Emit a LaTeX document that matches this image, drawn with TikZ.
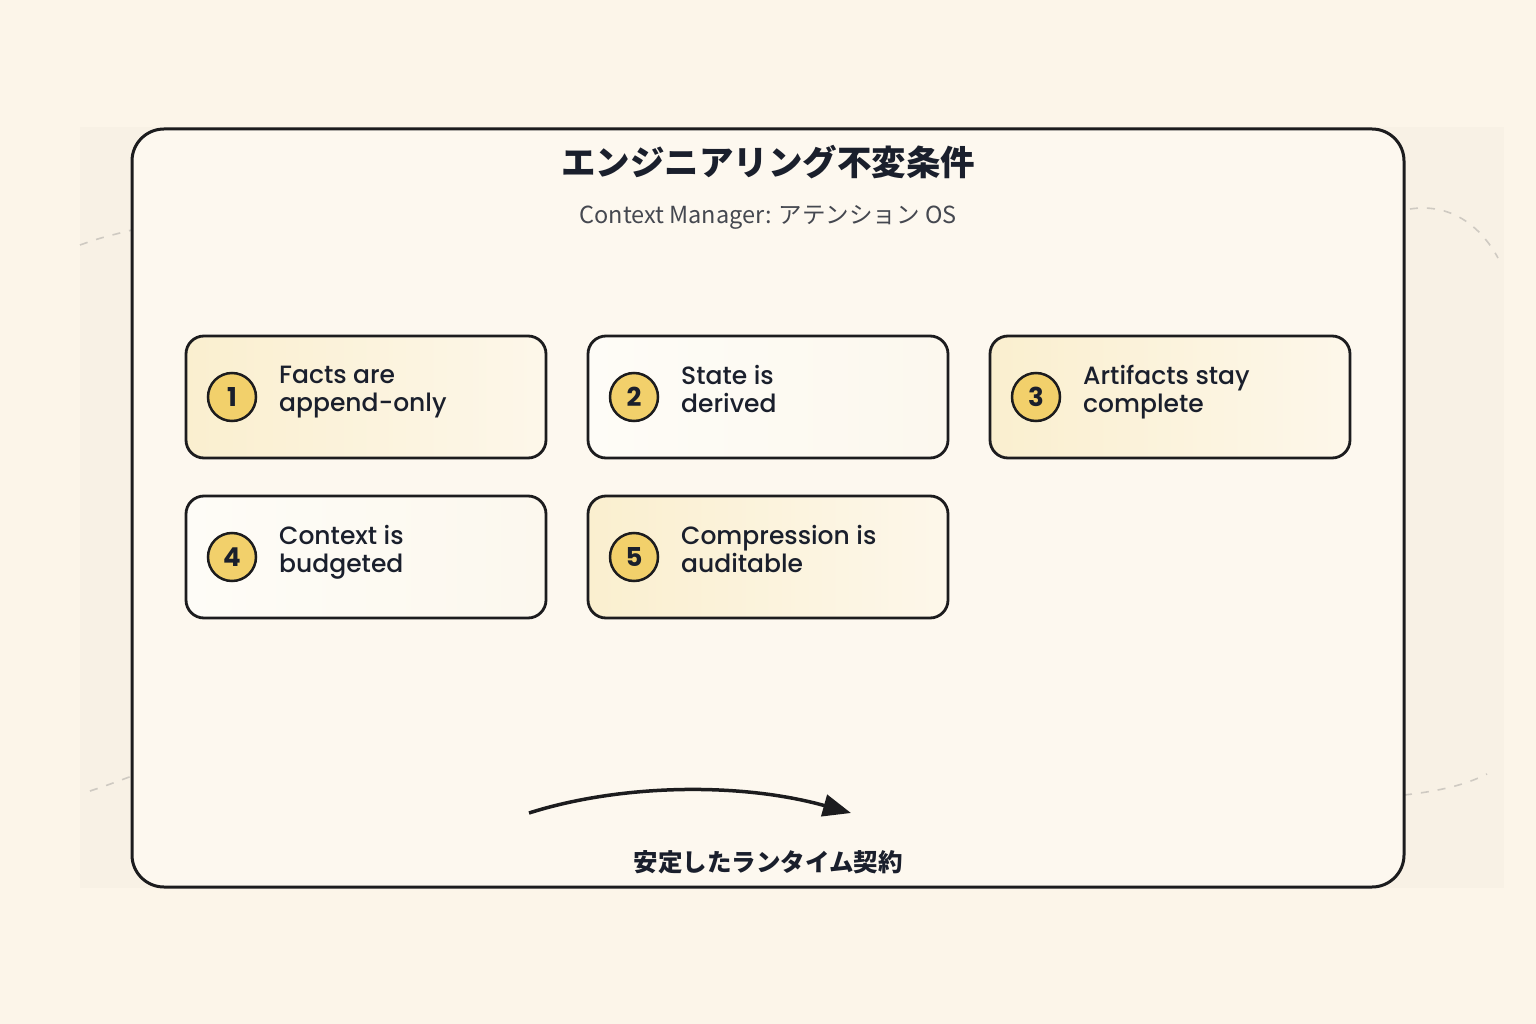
\documentclass[tikz,border=0pt]{standalone}
\usepackage{fontspec}
\setmainfont{Lato}
\newfontfamily\cjk{Noto Sans CJK JP}
\newfontfamily\cardfont{Poppins Medium}
\newfontfamily\badgefont{Poppins Bold}
\usetikzlibrary{arrows.meta}
\definecolor{bgc}{HTML}{FCF5E9}
\definecolor{bandc}{HTML}{F8F1E5}
\definecolor{panelc}{HTML}{FDF8EF}
\definecolor{inkc}{HTML}{1C1C1E}
\definecolor{txtc}{HTML}{1A1F2C}
\definecolor{subc}{HTML}{454850}
\definecolor{yelL}{HTML}{FAEFCF}
\definecolor{yelR}{HTML}{FDF7EA}
\definecolor{whtL}{HTML}{FEFCF7}
\definecolor{whtR}{HTML}{FCF8EE}
\definecolor{badgec}{HTML}{F2D06B}
\definecolor{dashc}{HTML}{CFCAC2}
\tikzset{
  card/.style={draw=inkc, line width=2.8pt, rounded corners=18pt, minimum width=360pt, minimum height=122pt, inner sep=0pt},
  ycard/.style={card, left color=yelL, right color=yelR},
  wcard/.style={card, left color=whtL, right color=whtR},
  badge/.style={circle, draw=inkc, line width=2.5pt, fill=badgec, minimum size=48pt, inner sep=0pt, font=\badgefont\fontsize{26}{26}\selectfont, text=txtc},
  label/.style={anchor=west, align=left, inner sep=0pt, text=txtc, font=\cardfont\fontsize{25}{28}\selectfont},
  deco/.style={draw=dashc, line width=1.6pt, dash pattern=on 8pt off 9pt}
}
\begin{document}
\begin{tikzpicture}[x=1pt,y=-1pt]
\fill[bgc] (0,0) rectangle (1536,1024);
\useasboundingbox (0,0) rectangle (1536,1024);
\fill[bandc] (80,127) rectangle (1504,888);
% decorative dashed curves
\draw[deco] (80,245) .. controls (100,238) .. (132,230);
\draw[deco] (1410,209) .. controls (1450,203) and (1480,225) .. (1498,258);
\draw[deco] (90,791) .. controls (105,786) .. (132,776);
\draw[deco] (1404,795) .. controls (1440,791) and (1465,785) .. (1487,774);
% main panel
\node[draw=inkc, fill=panelc, line width=3pt, rounded corners=32pt, minimum width=1272pt, minimum height=758pt, inner sep=0pt] (panel) at (768,508) {};
\node[font=\cjk\fontsize{34.5}{34.5}\selectfont\bfseries, text=txtc] (title) at (768,162) {エンジニアリング不変条件};
\node[font=\cjk\fontsize{23.5}{23.5}\selectfont, text=subc] (sub) at (768,217) {Context Manager: アテンション OS};
% cards
\node[ycard] (c1) at (366,397) {};
\node[wcard] (c2) at (768,397) {};
\node[ycard] (c3) at (1170,397) {};
\node[wcard] (c4) at (366,557) {};
\node[ycard] (c5) at (768,557) {};
\node[badge] (b1) at (232,397) {1};
\node[badge] (b2) at (634,397) {2};
\node[badge] (b3) at (1036,397) {3};
\node[badge] (b4) at (232,557) {4};
\node[badge] (b5) at (634,557) {5};
\node[label] (t1) at (279,392) {Facts are\\append-only\vphantom{y}};
\node[label] (t2) at (681,392) {State is\\derived\vphantom{y}};
\node[label] (t3) at (1083,392) {Artifacts stay\\complete\vphantom{y}};
\node[label] (t4) at (279,552) {Context is\\budgeted\vphantom{y}};
\node[label] (t5) at (681,552) {Compression is\\auditable\vphantom{y}};
% arrow
\coordinate (as) at (529,813);
\coordinate (ae) at (851,813);
\draw[inkc, line width=3.5pt, -{Triangle[length=28pt,width=22pt]}] (as) .. controls (620,784) and (740,782) .. (ae);
\node[font=\cjk\fontsize{24.5}{24.5}\selectfont\bfseries, text=txtc] (foot) at (768,862) {安定したランタイム契約};
\end{tikzpicture}
\end{document}
